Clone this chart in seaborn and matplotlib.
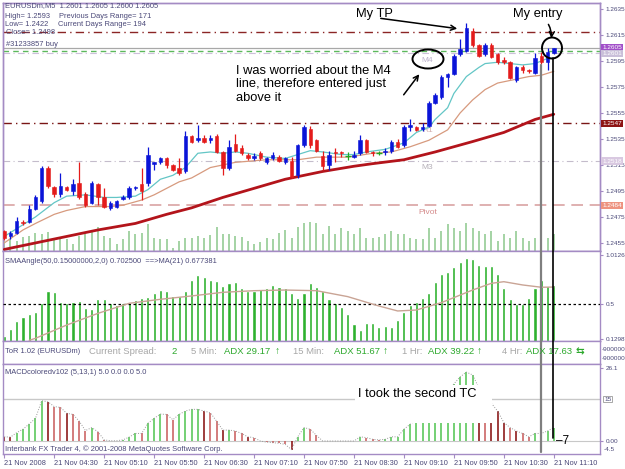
import numpy as np
import matplotlib
matplotlib.use("Agg")
import matplotlib.pyplot as plt
from matplotlib.lines import Line2D
from matplotlib.patches import Ellipse, Rectangle, FancyArrowPatch
import seaborn as sns

# EURUSDm M5, 21 Nov 2008 03:50 .. 11:10 (89 bars)
opens = [1.2464, 1.2460, 1.2463, 1.2471, 1.2471, 1.2481, 1.2487, 1.2513, 1.2498, 1.2493,
         1.2498, 1.2495, 1.2501, 1.2493, 1.2486, 1.2500, 1.2490, 1.2482, 1.2483, 1.2489,
         1.2490, 1.2497, 1.2500, 1.2501, 1.2516, 1.2517, 1.2520, 1.2515, 1.2513, 1.2510,
         1.2537, 1.2534, 1.2536, 1.2534, 1.2537, 1.2525, 1.2513, 1.2531, 1.2528, 1.2523,
         1.2520, 1.2524, 1.2517, 1.2520, 1.2521, 1.2517, 1.2518, 1.2507, 1.2530, 1.2543,
         1.2534, 1.2522, 1.2515, 1.2525, 1.2525, 1.2522, 1.2521, 1.2524, 1.2534, 1.2525,
         1.2524, 1.2525, 1.2526, 1.2533, 1.2530, 1.2544, 1.2544, 1.2543, 1.2545, 1.2563,
         1.2567, 1.2583, 1.2585, 1.2600, 1.2603, 1.2618, 1.2607, 1.2600, 1.2607, 1.2600,
         1.2596, 1.2594, 1.2580, 1.2590, 1.2588, 1.2586, 1.2599, 1.2594, 1.2601]
highs = [1.2465, 1.2464, 1.2475, 1.2473, 1.2484, 1.2492, 1.2514, 1.2514, 1.2499, 1.2509,
         1.2499, 1.2504, 1.2517, 1.2494, 1.2503, 1.2501, 1.2497, 1.2487, 1.2488, 1.2492,
         1.2499, 1.2499, 1.2513, 1.2529, 1.2517, 1.2521, 1.2521, 1.2516, 1.2520, 1.2541,
         1.2538, 1.2546, 1.2538, 1.2538, 1.2539, 1.2526, 1.2534, 1.2539, 1.2530, 1.2524,
         1.2524, 1.2526, 1.2521, 1.2525, 1.2523, 1.2521, 1.2521, 1.2531, 1.2546, 1.2545,
         1.2535, 1.2526, 1.2526, 1.2528, 1.2526, 1.2525, 1.2526, 1.2538, 1.2535, 1.2526,
         1.2526, 1.2528, 1.2534, 1.2535, 1.2546, 1.2550, 1.2545, 1.2547, 1.2564, 1.2570,
         1.2584, 1.2586, 1.2600, 1.2612, 1.2624, 1.2620, 1.2608, 1.2609, 1.2609, 1.2601,
         1.2598, 1.2595, 1.2591, 1.2592, 1.2589, 1.2601, 1.2602, 1.2605, 1.2605]
lows = [1.2457, 1.2458, 1.2462, 1.2469, 1.2470, 1.2480, 1.2486, 1.2497, 1.2490, 1.2490,
        1.2495, 1.2492, 1.2489, 1.2483, 1.2485, 1.2484, 1.2482, 1.2480, 1.2482, 1.2488,
        1.2489, 1.2496, 1.2488, 1.2499, 1.2511, 1.2516, 1.2513, 1.2510, 1.2507, 1.2509,
        1.2532, 1.2533, 1.2532, 1.2532, 1.2524, 1.2507, 1.2511, 1.2525, 1.2523, 1.2519,
        1.2519, 1.2519, 1.2516, 1.2519, 1.2517, 1.2516, 1.2505, 1.2505, 1.2529, 1.2528,
        1.2525, 1.2511, 1.2511, 1.2517, 1.2521, 1.2519, 1.2520, 1.2523, 1.2524, 1.2522,
        1.2523, 1.2523, 1.2524, 1.2528, 1.2529, 1.2541, 1.2541, 1.2541, 1.2544, 1.2562,
        1.2566, 1.2575, 1.2584, 1.2599, 1.2602, 1.2606, 1.2598, 1.2599, 1.2597, 1.2593,
        1.2593, 1.2581, 1.2579, 1.2586, 1.2586, 1.2585, 1.2593, 1.2588, 1.2600]
closes = [1.2459, 1.2463, 1.2472, 1.2470, 1.2481, 1.2490, 1.2513, 1.2499, 1.2493, 1.2499,
          1.2496, 1.2500, 1.2490, 1.2484, 1.2501, 1.2490, 1.2483, 1.2486, 1.2487, 1.2490,
          1.2497, 1.2498, 1.2495, 1.2523, 1.2517, 1.2520, 1.2515, 1.2511, 1.2509, 1.2537,
          1.2533, 1.2536, 1.2533, 1.2536, 1.2525, 1.2513, 1.2529, 1.2526, 1.2524, 1.2520,
          1.2522, 1.2520, 1.2520, 1.2523, 1.2518, 1.2520, 1.2506, 1.2530, 1.2544, 1.2530,
          1.2526, 1.2514, 1.2523, 1.2524, 1.2524, 1.2522, 1.2523, 1.2534, 1.2525, 1.2524,
          1.2524, 1.2526, 1.2533, 1.2529, 1.2544, 1.2546, 1.2542, 1.2544, 1.2563, 1.2569,
          1.2583, 1.2585, 1.2599, 1.2604, 1.2620, 1.2607, 1.2599, 1.2607, 1.2598, 1.2594,
          1.2594, 1.2582, 1.2590, 1.2588, 1.2587, 1.2597, 1.2594, 1.2602, 1.2605]
volumes = [100, 120, 100, 140, 150, 180, 170, 190, 120, 130,
           120, 70, 150, 170, 200, 240, 150, 130, 70, 120,
           200, 170, 180, 270, 130, 120, 120, 30, 100, 130,
           130, 150, 130, 160, 240, 170, 170, 150, 140, 100,
           70, 90, 130, 120, 180, 210, 130, 240, 280, 290,
           280, 170, 250, 170, 230, 200, 170, 230, 130, 130,
           140, 170, 200, 170, 170, 130, 120, 120, 230, 130,
           200, 270, 230, 200, 280, 230, 200, 170, 200, 100,
           170, 130, 200, 130, 100, 130, 170, 130, 170]

# moving averages
fast_ma_bars = [0, 5, 8, 10, 13, 16, 18, 21, 23, 25, 27, 29, 31, 33, 35, 37, 39, 42, 45, 47,
                49, 51, 54, 56, 58, 61, 64, 66, 68, 69, 71, 72, 74, 76, 77, 79, 81, 83, 85, 87, 88]
fast_ma = [1.2460, 1.2475, 1.2486, 1.2491, 1.2492, 1.2490, 1.2490, 1.2491, 1.2496, 1.2504,
           1.2507, 1.2513, 1.2524, 1.2525, 1.2524, 1.2525, 1.2524, 1.2521, 1.2520, 1.2523,
           1.2526, 1.2525, 1.2523, 1.2523, 1.2525, 1.2527, 1.2532, 1.2540, 1.2544, 1.2550,
           1.2559, 1.2570, 1.2583, 1.2590, 1.2593, 1.2594, 1.2593, 1.2592, 1.2593, 1.2597, 1.2597]
mid_ma_bars = [0, 3, 5, 8, 10, 13, 17, 19, 22, 24, 26, 28, 30, 33, 37, 42, 47, 50, 55, 59,
               62, 65, 68, 71, 73, 75, 77, 79, 81, 84, 86, 88]
mid_ma = [1.2455, 1.2465, 1.2470, 1.2477, 1.2480, 1.2483, 1.2483, 1.2484, 1.2488, 1.2492,
          1.2497, 1.2502, 1.2505, 1.2513, 1.2517, 1.2519, 1.2519, 1.2521, 1.2521, 1.2524,
          1.2525, 1.2529, 1.2534, 1.2542, 1.2555, 1.2565, 1.2573, 1.2578, 1.2580, 1.2583,
          1.2584, 1.2587]
slow_ma_bars = [0, 5, 10, 15, 21, 26, 30, 35, 40, 45, 51, 56, 59, 64, 69, 75, 80, 85, 88]
slow_ma = [1.2450, 1.2455, 1.2460, 1.2465, 1.2470, 1.2477, 1.2482, 1.2490, 1.2497, 1.2504,
           1.2510, 1.2514, 1.2516, 1.2519, 1.2525, 1.2533, 1.2540, 1.2550, 1.2554]

level_prices = [1.2617, 1.2605, 1.2603, 1.2601, 1.2547, 1.2518, 1.2484]
level_names = ["", "", "", "M4", "R1", "M3", "Pivot"]
box_prices = [1.2605, 1.2601, 1.2547, 1.2518, 1.2484]
price_ticks = [1.2455, 1.2475, 1.2495, 1.2515, 1.2535, 1.2555, 1.2575, 1.2595, 1.2615, 1.2635]

sma_angle = [0.165, 0.238, 0.326, 0.361, 0.392, 0.420, 0.514, 0.639, 0.622, 0.524,
             0.514, 0.517, 0.531, 0.455, 0.448, 0.549, 0.556, 0.514, 0.490, 0.514,
             0.507, 0.542, 0.559, 0.577, 0.612, 0.646, 0.633, 0.587, 0.587, 0.639,
             0.751, 0.803, 0.779, 0.751, 0.744, 0.692, 0.716, 0.727, 0.664, 0.639,
             0.639, 0.660, 0.664, 0.699, 0.681, 0.664, 0.612, 0.559, 0.618, 0.723,
             0.681, 0.639, 0.549, 0.514, 0.472, 0.395, 0.291, 0.228, 0.305, 0.298,
             0.256, 0.273, 0.263, 0.333, 0.420, 0.490, 0.524, 0.559, 0.612, 0.733,
             0.814, 0.832, 0.890, 0.942, 0.978, 0.971, 0.908, 0.897, 0.897, 0.814,
             0.664, 0.549, 0.500, 0.500, 0.559, 0.664, 0.751, 0.688, 0.7025]
sma_ma_bars = [4, 5, 10, 15, 20, 25, 30, 35, 40, 45, 50, 55, 60, 63, 66, 70, 75, 78, 80, 83, 86, 88]
sma_ma = [0.120, 0.141, 0.280, 0.402, 0.507, 0.549, 0.584, 0.622, 0.639, 0.646, 0.639,
          0.577, 0.479, 0.427, 0.437, 0.514, 0.646, 0.716, 0.733, 0.699, 0.675, 0.677]

macd = [1.5, 1.4, 3.0, 4.2, 6.1, 8.1, 14.4, 14.0, 12.3, 12.0,
        9.9, 9.5, 7.1, 3.7, 4.8, 3.3, 0.4, 0.1, 0.1, 0.4,
        1.4, 2.7, 2.7, 6.3, 8.1, 9.6, 9.5, 7.6, 9.5, 10.7,
        11.3, 11.3, 10.7, 10.1, 7.1, 3.9, 3.9, 3.6, 2.7, 1.5,
        1.2, 0.0, -0.4, -0.6, -0.8, -1.2, -3.1, 1.5, 4.8, 4.2,
        2.0, 0.0, 0.0, 0.0, 0.0, 0.0, 0.0, 1.5, 1.2, 0.6,
        0.4, 0.6, 1.5, 1.5, 4.2, 6.0, 7.5, 8.5, 11.0, 13.5,
        16.0, 18.0, 20.4, 22.9, 24.6, 23.6, 19.0, 16.0, 13.5, 10.7,
        6.6, 4.8, 3.6, 2.7, 1.5, 2.7, 2.7, 3.6, 4.8]
macd_state = list("mmgggggmrr" "mrrrgrrrgg" "ggrgggrrgg" "ggmrrmgrrm" "rrrrrrmggr"
                  "rrrrrrrgrr" "rggggggggg" "ggggggmrmm" "mrmrrgrgg")

xtick_bars = [0, 8, 16, 24, 32, 40, 48, 56, 64, 72, 80, 88]
xtick_labels = ["21 Nov 2008", "21 Nov 04:30", "21 Nov 05:10", "21 Nov 05:50",
                "21 Nov 06:30", "21 Nov 07:10", "21 Nov 07:50", "21 Nov 08:30",
                "21 Nov 09:10", "21 Nov 09:50", "21 Nov 10:30", "21 Nov 11:10"]

sns.set_style("white")
plt.rcParams["font.family"] = ["Liberation Sans", "DejaVu Sans"]

W, H = 625, 469
fig = plt.figure(figsize=(W / 100, H / 100), dpi=100)
FRAME = "#A48BC4"
TXT = "#4A4878"
XL = (-0.2, 95.4)


def fx(p):
    return p / W


def fy(p):
    return 1 - p / H


def rect(x0, y0, x1, y1):
    return [fx(x0), fy(y1), (x1 - x0) / W, (y1 - y0) / H]


def frame(a):
    for s in a.spines.values():
        s.set_color(FRAME)
        s.set_linewidth(1.0)
    a.set_xlim(*XL)
    a.tick_params(axis="x", bottom=False, labelbottom=False)
    a.tick_params(axis="y", left=False, labelleft=False, right=True, labelright=True,
                  direction="out", length=2.5, width=0.8, color=FRAME,
                  labelsize=4.6, labelcolor=TXT, pad=1.5)


x = np.arange(len(opens))

# ---- main window: volume behind, price on top ----
ax_vol = fig.add_axes(rect(3, 3, 600, 251))
ax_vol.vlines(x, 0, volumes, color="#8CC88C", lw=1.1)
ax_vol.set_ylim(0, 2480)
frame(ax_vol)
ax_vol.set_yticks([])
ax_vol.tick_params(axis="y", right=False, labelright=False)

ax = ax_vol.twinx()
ax.set_ylim(1.24488, 1.26396)
frame(ax)
ax.set_yticks(price_ticks)
ax.set_yticklabels([f"{t:.4f}" for t in price_ticks])

lvl_styles = [
    dict(color="#8B2525", ls=(0, (6, 3, 1, 3)), lw=1.0),
    dict(color="#A8A8A8", ls="-", lw=0.9),
    dict(color="#5CB85C", ls=(0, (4, 3)), lw=1.0),
    dict(color="#CDBFDB", ls=(0, (6, 3, 1, 3)), lw=0.8),
    dict(color="#7A1515", ls=(0, (6, 3, 1, 3)), lw=1.0),
    dict(color="#C4BCCB", ls=(0, (6, 3, 1, 3)), lw=0.8),
    dict(color="#D9A3A3", ls=(0, (7, 4)), lw=1.2),
]
name_cols = {"M4": "#BDB3CC", "R1": "#D2AEAE", "M3": "#B5B0B8", "Pivot": "#D48A8A"}
for p, nm, st in zip(level_prices, level_names, lvl_styles):
    ax.axhline(p, zorder=2, **st)
    if nm:
        ax.annotate(nm, (67.8, p), xytext=(0, -5), textcoords="offset points",
                    ha="center", va="center", fontsize=6, color=name_cols[nm], zorder=2)

box_cols = ["#A24FC9", "#C9BFD9", "#8E1414", "#D9C9E1", "#EE9380"]
for p, c in zip(box_prices, box_cols):
    ax.annotate(f"{p:.4f}", xy=(1, p), xycoords=("axes fraction", "data"),
                xytext=(1.6, 0), textcoords="offset points", ha="left", va="center",
                fontsize=4.6, color="white", annotation_clip=False,
                bbox=dict(boxstyle="square,pad=0.18", fc=c, ec="none"))

sns.lineplot(x=slow_ma_bars, y=slow_ma, ax=ax, color="#B3141B", lw=2.0, zorder=3)
sns.lineplot(x=mid_ma_bars, y=mid_ma, ax=ax, color="#D79A7E", lw=0.9, zorder=3)
sns.lineplot(x=fast_ma_bars, y=fast_ma, ax=ax, color="#63C6C6", lw=0.9, zorder=3)

o = np.array(opens)
c = np.array(closes)
cols = ["#0A14D8" if cc > oo else ("#E41B1B" if cc < oo else "#1FA81F") for oo, cc in zip(o, c)]
ax.vlines(x, lows, highs, colors=cols, lw=0.9, zorder=4)
ax.bar(x, np.abs(c - o), bottom=np.minimum(o, c), width=0.55, color=cols,
       edgecolor=cols, linewidth=0.4, zorder=5)
for i in x[o == c]:
    ax.hlines(o[i], i - 0.45, i + 0.45, colors="#1FA81F", lw=1.0, zorder=5)
ax.set_xlabel("")
ax.set_ylabel("")

# ---- SMAAngle window ----
ax_sma = fig.add_axes(rect(3, 251, 600, 341))
ax_sma.bar(x, sma_angle, width=0.5, color="#2EB12E", zorder=2)
ax_sma.axhline(0.5, color="black", ls=(0, (2, 2)), lw=0.9, zorder=3)
sns.lineplot(x=sma_ma_bars, y=sma_ma, ax=ax_sma, color="#C9A495", lw=1.0, zorder=4)
ax_sma.set_ylim(0.113, 1.054)
frame(ax_sma)
ax_sma.set_yticks([0.129875, 0.5, 1.012625])
ax_sma.set_yticklabels(["0.129875", "0.5", "1.012625"])
ax_sma.set_xlabel("")
ax_sma.set_ylabel("")

# ---- ToR strip ----
ax_tor = fig.add_axes(rect(3, 341, 600, 364))
frame(ax_tor)
ax_tor.set_yticks([])
ax_tor.tick_params(axis="y", right=False, labelright=False)

# ---- MACD window ----
ax_macd = fig.add_axes(rect(3, 364, 600, 454))
mcol = {"g": "#5CC85C", "m": "#8E1B1B", "r": "#CC6666"}
ax_macd.axhline(15, color="#C8C8C8", lw=1.0, zorder=1)
ax_macd.axhline(0, color="#C8C8C8", lw=0.8, zorder=1)
ax_macd.vlines(x, 0, macd, colors=[mcol[s] for s in macd_state], lw=1.2, zorder=2)
ax_macd.plot(x, macd, color="#9A9A9A", lw=0.7, ls=":", zorder=3)
ax_macd.set_ylim(-4.64, 27.5)
frame(ax_macd)
ax_macd.set_yticks([26.1, 0])
ax_macd.set_yticklabels(["26.1", "0.00"])
ax_macd.annotate("15", xy=(1, 15), xycoords=("axes fraction", "data"), xytext=(3, 0),
                 textcoords="offset points", ha="left", va="center", fontsize=4.6, color=TXT,
                 annotation_clip=False,
                 bbox=dict(boxstyle="square,pad=0.15", fc="white", ec="#9A9A9A", lw=0.6))
ax_macd.annotate("-4.5", xy=(1, 0), xycoords=("axes fraction", "data"), xytext=(3, -6),
                 textcoords="offset points", ha="left", va="center", fontsize=4.6, color=TXT,
                 annotation_clip=False)
ax_macd.set_xticks(xtick_bars)
ax_macd.set_xticklabels(xtick_labels, ha="left")
ax_macd.tick_params(axis="x", bottom=True, labelbottom=True, length=3, width=0.8,
                    color=FRAME, labelsize=5.3, labelcolor=TXT, pad=1)

# ---- window captions ----
small = dict(fontsize=5.4, color=TXT, va="center", ha="left")
fig.text(fx(5), fy(6), "EURUSDm,M5  1.2601 1.2605 1.2600 1.2605", **small)
fig.text(fx(5), fy(16), "High= 1.2593", **small)
fig.text(fx(59), fy(16), "Previous Days Range= 171", **small)
fig.text(fx(5), fy(25), "Low= 1.2422", **small)
fig.text(fx(58), fy(25), "Current Days Range= 194", **small)
fig.text(fx(6), fy(33), "Close= 1.2498", **small)
fig.text(fx(6), fy(45), "#31233857 buy", **small)
fig.text(fx(5), fy(261), "SMAAngle(50,0.15000000,2,0) 0.702500  ==>MA(21) 0.677381", **small)
fig.text(fx(5), fy(373), "MACDcoloredv102 (5,13,1) 5.0 0.0 0.0 5.0", **small)
fig.text(fx(5), fy(449), "Interbank FX Trader 4, \u00a9 2001-2008 MetaQuotes Software Corp.", **small)
fig.text(fx(602), fy(349), "-9000000", fontsize=4.6, color=TXT, va="center", ha="left")
fig.text(fx(602), fy(358), "-9000000", fontsize=4.6, color=TXT, va="center", ha="left")

GRAY, GREEN = "#A6A6A6", "#2CA82C"
tor_items = [("ToR 1.02 (EURUSDm)", 5, TXT, 5.4), ("Current Spread:", 89, GRAY, 6.8),
             ("2", 171, GREEN, 6.8), ("5 Min:", 191, GRAY, 6.8), ("ADX 29.17", 224, GREEN, 6.8),
             ("\u2191", 275, GREEN, 7.5), ("15 Min:", 293, GRAY, 6.8), ("ADX 51.67", 334, GREEN, 6.8),
             ("\u2191", 383, GREEN, 7.5), ("1 Hr:", 402, GRAY, 6.8), ("ADX 39.22", 428, GREEN, 6.8),
             ("\u2191", 477, GREEN, 7.5), ("4 Hr:", 502, GRAY, 6.8), ("ADX 17.63", 526, GREEN, 6.8),
             ("\u21c6", 575, GREEN, 7.5)]
for t, px, col, fs in tor_items:
    fig.text(fx(px), fy(351), t, fontsize=fs, color=col, va="center", ha="left",
             fontweight="bold" if t in ("\u2191", "\u21c6") else "normal")

# ---- hand-drawn notes ----
note = dict(fontsize=9.3, color="black", va="center", ha="left")
fig.text(fx(356), fy(14), "My TP", **note)
fig.text(fx(513), fy(14), "My entry", **note)
fig.text(fx(236), fy(71), "I was worried about the M4", **note)
fig.text(fx(236), fy(84), "line, therefore entered just", **note)
fig.text(fx(236), fy(98), "above it", **note)

fig.add_artist(Rectangle((fx(355), fy(423)), 137 / W, 38 / H, transform=fig.transFigure,
                         fc="white", ec="none", zorder=2))
fig.text(fx(358), fy(394), "I took the second TC", zorder=3, **note)
fig.text(fx(556), fy(441), "\u20137", fontsize=8.5, color="black", va="center", ha="left")

fig.add_artist(Line2D([fx(541), fx(541)], [fy(65), fy(452)], color="#7F7F7F", lw=1.6))
fig.add_artist(Line2D([fx(553), fx(553)], [fy(58), fy(438)], color="black", lw=1.2))

fig.add_artist(Ellipse((fx(552), fy(48)), 20 / W, 21 / H, transform=fig.transFigure,
                       fill=False, ec="black", lw=1.4))
fig.add_artist(Ellipse((fx(428), fy(59)), 31 / W, 19 / H, transform=fig.transFigure,
                       fill=False, ec="black", lw=1.4))

arrow = dict(transform=fig.transFigure, arrowstyle="->", mutation_scale=9, lw=1.1, color="black")
fig.add_artist(FancyArrowPatch((fx(378), fy(18)), (fx(460), fy(29)), **arrow))
fig.add_artist(FancyArrowPatch((fx(547), fy(22)), (fx(551), fy(41)),
                               connectionstyle="arc3,rad=-0.2", **arrow))
fig.add_artist(FancyArrowPatch((fx(402), fy(97)), (fx(421), fy(72)), **arrow))

fig.savefig("out.png", dpi=100)
